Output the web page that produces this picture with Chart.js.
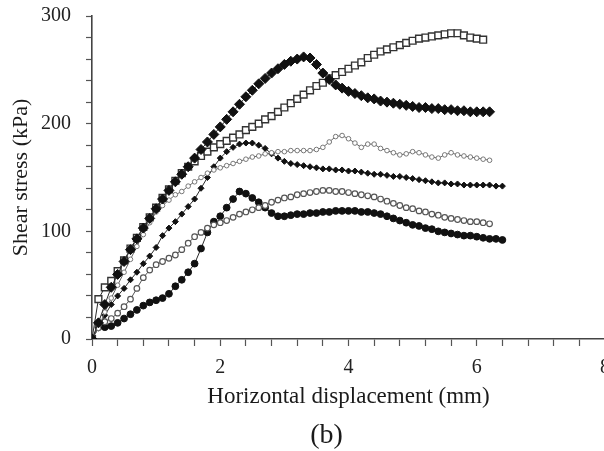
<!DOCTYPE html>
<html>
<head>
<meta charset="utf-8">
<script src="https://cdn.jsdelivr.net/npm/chart.js@4.4.1/dist/chart.umd.min.js"></script>
<style>
  html, body { margin: 0; padding: 0; background: #fff; overflow: hidden; width: 604px; height: 451px; }
  canvas { display: block; }
</style>
</head>
<body>
<canvas id="c" width="620" height="451"></canvas>
<script>
// Horizontal displacement (mm) sampled along each curve
const displacement = [0,0.1,0.2,0.3,0.4,0.5,0.6,0.7,0.8,0.9,
  1.0,1.1,1.2,1.3,1.4,1.5,1.6,1.7,1.8,1.9,
  2.0,2.1,2.2,2.3,2.4,2.5,2.6,2.7,2.8,2.9,
  3.0,3.1,3.2,3.3,3.4,3.5,3.6,3.7,3.8,3.9,
  4.0,4.1,4.2,4.3,4.4,4.5,4.6,4.7,4.8,4.9,
  5.0,5.1,5.2,5.3,5.4,5.5,5.6,5.7,5.8,5.9,
  6.0,6.1,6.2,6.3,6.4];

// Shear stress (kPa) per test
const filledSquares = [0,15,32,48,60,72,83,93,103,112,
  121,130,138,146,153,160,168,176,183,190,
  197,204,211,218,225,231,237,242,247,251,
  255,258,260,262,261,255,247,241,236,233,
  230,228,226,224,223,221,220,219,218,217,
  216,215,215,214,214,213,213,212,212,211,
  211,211,211];
const openSquares = [0,37,48,54,63,73,84,94,104,113,
  122,131,139,147,154,160,165,170,174,178,
  181,184,187,190,194,197,200,204,207,211,
  215,219,223,227,231,235,238,242,245,248,
  251,254,257,261,264,267,269,271,273,275,
  277,279,280,281,282,283,284,284,282,280,
  279,278];
const greyDiamonds = [0,10,25,38,50,62,74,86,97,108,
  118,124,129,134,137,142,146,150,154,157,
  159,161,163,165,167,169,170,172,173,174,
  174,175,175,175,175,176,178,183,188,189,
  186,182,178,181,181,177,175,173,171,172,
  174,173,171,169,168,171,173,171,170,169,
  168,167,166];
const filledDiamonds = [0,10,22,32,40,47,55,62,70,77,
  85,96,103,109,116,123,130,140,150,160,
  168,174,178,181,182,182,180,177,172,168,
  165,163,162,161,160,159,158,158,157,157,
  156,156,155,154,153,153,152,151,151,150,
  149,148,147,146,145,145,144,144,143,143,
  143,143,143,142,142];
const openCircles = [0,13,16,19,24,30,37,47,57,64,
  69,72,75,78,83,89,95,99,103,106,
  108,110,113,116,118,120,122,124,127,129,
  131,132,134,135,136,137,138,138,137,137,
  136,135,134,133,132,130,128,126,124,122,
  121,119,118,116,115,113,112,111,110,109,
  109,108,107];
const filledCircles = [0,11,11,12,15,19,23,27,31,34,
  36,38,42,49,55,62,70,84,99,109,
  114,122,130,137,135,131,127,122,117,114,
  114,115,116,116,117,117,118,118,119,119,
  119,119,118,118,117,116,114,112,110,108,
  106,105,103,102,100,99,98,97,96,96,
  95,94,93,93,92];

const xTickLabels = [0, 2, 4, 6, 8];
const yTickLabels = [0, 100, 200, 300];
const xTitle = 'Horizontal displacement (mm)';
const yTitle = 'Shear stress (kPa)';
const captionText = '(b)';

const serif = '"Liberation Serif", "Times New Roman", serif';

function pts(ys) {
  return ys.map((y, i) => ({ x: displacement[i], y: y }));
}

function series(label, ys, style) {
  return Object.assign({
    label: label,
    data: pts(ys),
    showLine: true,
    borderColor: '#2a2a2a',
    borderWidth: 1,
    pointBorderWidth: 1,
    tension: 0
  }, style);
}

const datasets = [
  series('filled squares', filledSquares, { pointStyle: 'rectRot', pointRadius: 5, pointBackgroundColor: '#111', pointBorderColor: '#111' }),
  series('open squares', openSquares, { pointStyle: 'rect', pointRadius: 4.8, pointBackgroundColor: '#fff', pointBorderColor: '#333', pointBorderWidth: 1.4 }),
  series('grey diamonds', greyDiamonds, { pointStyle: 'circle', pointRadius: 2.3, pointBackgroundColor: '#fff', pointBorderColor: '#777', borderColor: '#666' }),
  series('filled diamonds', filledDiamonds, { pointStyle: 'rectRot', pointRadius: 3, pointBackgroundColor: '#111', pointBorderColor: '#111' }),
  series('open circles', openCircles, { pointStyle: 'circle', pointRadius: 2.8, pointBackgroundColor: '#fff', pointBorderColor: '#555', borderColor: '#555', pointBorderWidth: 1.2 }),
  series('filled circles', filledCircles, { pointStyle: 'circle', pointRadius: 3.4, pointBackgroundColor: '#111', pointBorderColor: '#111' })
];

const captionPlugin = {
  id: 'caption',
  afterDraw(chart) {
    const ctx = chart.ctx;
    const a = chart.chartArea;
    ctx.save();
    ctx.font = '28px ' + serif;
    ctx.fillStyle = '#1a1a1a';
    ctx.textAlign = 'center';
    ctx.textBaseline = 'middle';
    ctx.fillText(captionText, (a.left + a.right) / 2 - 22, a.bottom + 97);
    ctx.restore();
  }
};

function isLabel(v, list) {
  return list.some(t => Math.abs(t - v) < 1e-6);
}

new Chart(document.getElementById('c'), {
  type: 'scatter',
  data: { datasets: datasets },
  plugins: [captionPlugin],
  options: {
    responsive: false,
    animation: false,
    devicePixelRatio: 1,
    layout: { padding: { top: 16, right: 11, left: 0, bottom: 0 } },
    plugins: { legend: { display: false }, tooltip: { enabled: false }, title: { display: false } },
    scales: {
      x: {
        type: 'linear',
        min: 0, max: 8,
        afterFit(s) { s.height = 112; },
        ticks: {
          stepSize: 0.4,
          autoSkip: false,
          maxRotation: 0,
          padding: 10,
          color: '#222',
          font: { family: serif, size: 20 },
          callback: v => isLabel(v, xTickLabels) ? String(Math.round(v)) : ''
        },
        grid: { drawOnChartArea: false, drawTicks: true, tickLength: 7, color: '#555', tickWidth: 1.2 },
        border: { display: true, color: '#444', width: 1.6 },
        title: { display: true, text: xTitle, color: '#1a1a1a', font: { family: serif, size: 23 }, padding: { top: 0, bottom: 40 } }
      },
      y: {
        type: 'linear',
        min: 0, max: 300,
        afterFit(s) { s.width = 92; },
        ticks: {
          stepSize: 20,
          autoSkip: false,
          padding: 15,
          color: '#222',
          font: { family: serif, size: 20, lineHeight: 0.1 },
          callback: v => isLabel(v, yTickLabels) ? String(Math.round(v)) : ''
        },
        grid: { drawOnChartArea: false, drawTicks: true, tickLength: 6, color: '#555', tickWidth: 1.2 },
        border: { display: true, color: '#444', width: 1.6 },
        title: { display: true, text: yTitle, color: '#1a1a1a', font: { family: serif, size: 22 }, padding: { top: 8, bottom: 0 } }
      }
    }
  }
});
</script>
</body>
</html>
